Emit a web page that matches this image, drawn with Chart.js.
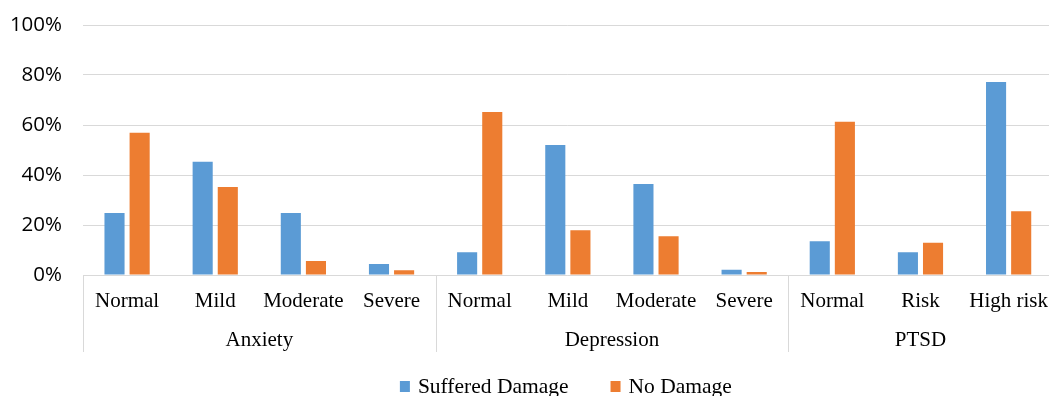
<!DOCTYPE html>
<html lang="en">
<head>
<meta charset="UTF-8">
<title>Damage chart</title>
<script src="https://cdn.jsdelivr.net/npm/chart.js"></script>
<style>
  html, body { margin: 0; padding: 0; background: #fff; overflow: hidden; }
  /* plot runs a few px past the right edge, like the original */
  .wrap { width: 1054px; height: 396px; }
</style>
</head>
<body>
<div class="wrap"><canvas id="grafico"></canvas></div>
<script>
const categorias = ['Normal', 'Mild', 'Moderate', 'Severe', 'Normal', 'Mild', 'Moderate', 'Severe', 'Normal', 'Risk', 'High risk'];
const grupos = ['Anxiety', 'Depression', 'PTSD'];
const tamanhoGrupos = [4, 4, 3];
const sofreuDano = [24.8, 45.3, 24.8, 4.4, 9.1, 52.0, 36.4, 2.1, 13.5, 9.1, 77.2];
const semDano = [56.9, 35.2, 5.6, 1.9, 65.2, 17.9, 15.5, 1.2, 61.3, 12.9, 25.5];
const ticksY = [0, 20, 40, 60, 80, 100];

const serif = '"Liberation Serif", "Times New Roman", serif';
const cinza = '#d9d9d9';

// group labels + separators under the category labels
const gruposPlugin = {
  id: 'grupos',
  afterDraw(chart) {
    const x = chart.scales.x;
    const ctx = chart.ctx;
    const banda = x.getPixelForValue(1) - x.getPixelForValue(0);
    const topo = chart.chartArea.bottom;
    ctx.save();
    ctx.strokeStyle = cinza;
    ctx.lineWidth = 1;
    ctx.fillStyle = '#000';
    ctx.font = '21px ' + serif;
    ctx.textAlign = 'center';
    ctx.textBaseline = 'alphabetic';
    let inicio = 0;
    grupos.forEach((g, i) => {
      const esq = x.getPixelForValue(inicio) - banda / 2;
      const dir = x.getPixelForValue(inicio + tamanhoGrupos[i] - 1) + banda / 2;
      ctx.beginPath();
      ctx.moveTo(Math.round(esq) + 0.5, topo);
      ctx.lineTo(Math.round(esq) + 0.5, topo + 77);
      ctx.stroke();
      ctx.fillText(g, (esq + dir) / 2, topo + 71);
      inicio += tamanhoGrupos[i];
    });
    ctx.restore();
  }
};

// legend drawn on the canvas
const legendaPlugin = {
  id: 'legenda',
  afterDraw(chart) {
    const ctx = chart.ctx;
    const area = chart.chartArea;
    ctx.save();
    ctx.font = '21.5px ' + serif;
    ctx.textBaseline = 'alphabetic';
    const caixa = 10, espaco = 8, entre = 42;
    const itens = chart.data.datasets.map(d => ({
      texto: d.label, cor: d.backgroundColor, w: caixa + espaco + ctx.measureText(d.label).width
    }));
    const total = itens.reduce((s, it) => s + it.w, 0) + entre * (itens.length - 1);
    let px = (area.left + area.right) / 2 - 2 - total / 2;
    const base = 393;
    itens.forEach(it => {
      ctx.fillStyle = it.cor;
      ctx.fillRect(px, base - 12, caixa, caixa + 1);
      ctx.fillStyle = '#000';
      ctx.fillText(it.texto, px + caixa + espaco, base);
      px += it.w + entre;
    });
    ctx.restore();
  }
};

new Chart(document.getElementById('grafico'), {
  type: 'bar',
  data: {
    labels: categorias,
    datasets: [
      { label: 'Suffered Damage', data: sofreuDano, backgroundColor: '#5B9BD5' },
      { label: 'No Damage', data: semDano, backgroundColor: '#ED7D31' }
    ]
  },
  options: {
    responsive: true,
    maintainAspectRatio: false,
    animation: false,
    datasets: { bar: { categoryPercentage: 0.57, barPercentage: 0.8 } },
    layout: { padding: { top: 25, right: 0, bottom: 0, left: 0 } },
    plugins: {
      legend: { display: false },
      tooltip: { enabled: false }
    },
    scales: {
      x: {
        grid: { display: false },
        border: { display: false },
        ticks: {
          color: '#000',
          font: { family: serif, size: 21 },
          padding: 6,
          maxRotation: 0,
          autoSkip: false
        },
        afterFit(s) { s.height = 121; }
      },
      y: {
        min: 0,
        max: 100,
        afterBuildTicks(s) { s.ticks = ticksY.map(v => ({ value: v })); },
        // invisible tick marks keep the labels away from the plot
        grid: { color: cinza, lineWidth: 1, drawTicks: true, tickLength: 19, tickColor: 'rgba(0,0,0,0)' },
        border: { display: false },
        ticks: {
          color: '#000',
          font: { family: '"Open Sans", "Noto Sans", sans-serif', size: 20.5 },
          padding: 2,
          callback: v => v + '%'
        },
        afterFit(s) { s.width = 83; }
      }
    }
  },
  plugins: [gruposPlugin, legendaPlugin]
});
</script>
</body>
</html>
